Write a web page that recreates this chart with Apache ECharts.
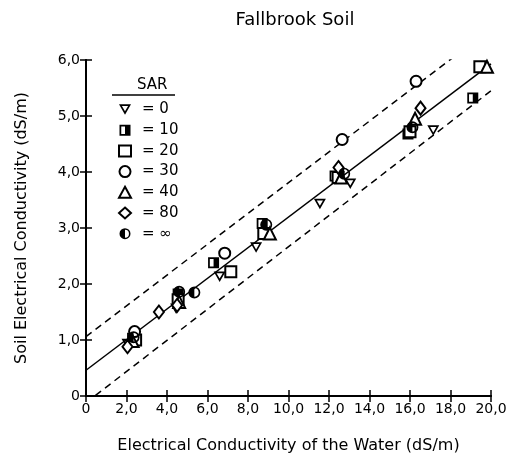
<!DOCTYPE html>
<html>
<head>
<meta charset="utf-8">
<script src="https://cdn.jsdelivr.net/npm/echarts@6/dist/echarts.min.js"></script>
<style>
  html, body { margin: 0; padding: 0; background: #fff; }
  #main { width: 517px; height: 459px; }
</style>
</head>
<body>
<div id="main"></div>
<script>
// values (EC water, EC soil) per SAR group
var sarNames = ['= 0', '= 10', '= 20', '= 30', '= 40', '= 80', '= \u221e'];
var sar0 = [[2.05, 0.93], [4.45, 1.56], [6.6, 2.13], [8.4, 2.65], [11.55, 3.43], [13.05, 3.79], [17.15, 4.74]];
var sar10 = [[2.3, 1.03], [4.55, 1.82], [6.3, 2.38], [8.7, 3.08], [12.3, 3.93], [15.9, 4.68], [19.1, 5.32]];
var sar20 = [[2.45, 1.0], [4.55, 1.72], [7.15, 2.22], [8.78, 2.9], [12.45, 3.9], [16.0, 4.72], [19.45, 5.88]];
var sar30 = [[2.4, 1.15], [6.85, 2.55], [12.65, 4.58], [16.3, 5.62]];
var sar40 = [[2.3, 0.98], [4.6, 1.68], [9.08, 2.9], [12.6, 3.9], [16.25, 4.95], [19.8, 5.88]];
var sar80 = [[2.05, 0.88], [3.6, 1.5], [4.5, 1.62], [12.47, 4.08], [16.52, 5.14]];
var sarInf = [[2.35, 1.05], [4.6, 1.86], [5.35, 1.85], [8.9, 3.06], [12.75, 3.97], [16.12, 4.8], [20.1, 5.78]];

// regression line and the two dashed bounds
var lineX = [0, 20];
var fitY = [0.46, 5.93];
var upperY = [1.06, 6.56];
var lowerY = [-0.12, 5.45];

var xTicks = ['0', '2,0', '4,0', '6,0', '8,0', '10,0', '12,0', '14,0', '16,0', '18,0', '20,0'];
var yTicks = ['0', '1,0', '2,0', '3,0', '4,0', '5,0', '6,0'];

function pairs(xs, ys) {
    return xs.map(function (x, i) { return [x, ys[i]]; });
}

// outlined shapes as filled rings (inner part wound the other way)
var downTriangle = 'path://M0,0 L12,0 L6,10.4 Z M2.9,1.7 L6,7.0 L9.1,1.7 Z';
var halfSquare = 'path://M0,0 L10,0 L10,10 L0,10 Z M1.6,1.6 L1.6,8.4 L5,8.4 L5,1.6 Z';
var halfCircle = 'path://M10,0 A10,10 0 1,1 10,20 A10,10 0 1,1 10,0 Z M10,2.8 L10,17.2 A7.2,7.2 0 0,0 10,2.8 Z';

var fontName = 'DejaVu Sans';
var chart = echarts.init(document.getElementById('main'));

function pointSeries(name, data, symbol, size, filled) {
    return {
        name: name,
        type: 'scatter',
        data: data,
        symbol: symbol,
        symbolSize: size,
        itemStyle: filled
            ? { color: '#000', borderWidth: 0, opacity: 1 }
            : { color: '#000', borderColor: '#000', borderWidth: 1.5, opacity: 1 },
        z: 5
    };
}

function lineSeries(ys, dashed) {
    return {
        type: 'line',
        data: pairs(lineX, ys),
        symbol: 'none',
        clip: true,
        silent: true,
        lineStyle: { color: '#000', width: 1.5, type: dashed ? [7, 5] : 'solid' },
        z: 3
    };
}

var option = {
    backgroundColor: '#fff',
    animation: false,
    textStyle: { fontFamily: fontName, color: '#000' },
    title: {
        text: 'Fallbrook Soil',
        left: 290,
        top: 6,
        textAlign: 'center',
        textStyle: { fontFamily: fontName, fontSize: 18, fontWeight: 'normal', color: '#000' }
    },
    legend: {
        orient: 'vertical',
        left: 113,
        top: 97,
        itemWidth: 12,
        itemHeight: 11,
        itemGap: 5.7,
        data: sarNames,
        textStyle: { fontFamily: fontName, fontSize: 15, color: '#000', padding: [0, 0, 0, 6] }
    },
    graphic: [
        { type: 'text', left: 137, top: 78, style: { text: 'SAR', font: '15px "DejaVu Sans"', fill: '#000' } },
        { type: 'line', shape: { x1: 112, y1: 95, x2: 175, y2: 95 }, style: { stroke: '#000', lineWidth: 1.5 } }
    ],
    grid: { left: 86, right: 26, top: 60, bottom: 61 },
    xAxis: [{
        type: 'value', min: 0, max: 20, interval: 2,
        name: 'Electrical Conductivity of the Water (dS/m)',
        nameLocation: 'middle', nameGap: 42,
        nameTextStyle: { fontFamily: fontName, fontSize: 16, color: '#000' },
        axisLine: { lineStyle: { color: '#000', width: 2 } },
        axisTick: { inside: true, length: 6, lineStyle: { color: '#000', width: 1.5 } },
        axisLabel: { fontSize: 14, color: '#000', margin: 6, formatter: function (v) { return xTicks[Math.round(v / 2)]; } },
        splitLine: { show: false }
    }, {
        type: 'value', min: 0, max: 20, interval: 2, position: 'top',
        axisLine: { lineStyle: { color: '#000', width: 2 } },
        axisTick: { inside: true, length: 6, lineStyle: { color: '#000', width: 1.5 } },
        axisLabel: { show: false },
        splitLine: { show: false }
    }],
    yAxis: [{
        type: 'value', min: 0, max: 6, interval: 1,
        name: 'Soil Electrical Conductivity (dS/m)',
        nameLocation: 'middle', nameGap: 56,
        nameTextStyle: { fontFamily: fontName, fontSize: 16, color: '#000' },
        axisLine: { lineStyle: { color: '#000', width: 2 } },
        axisTick: { inside: true, length: 6, lineStyle: { color: '#000', width: 1.5 } },
        axisLabel: { fontSize: 14, color: '#000', margin: 6, formatter: function (v) { return yTicks[Math.round(v)]; } },
        splitLine: { show: false }
    }, {
        type: 'value', min: 0, max: 6, interval: 1, position: 'right',
        axisLine: { lineStyle: { color: '#000', width: 2 } },
        axisTick: { inside: true, length: 6, lineStyle: { color: '#000', width: 1.5 } },
        axisLabel: { show: false },
        splitLine: { show: false }
    }],
    series: [
        lineSeries(fitY, false),
        lineSeries(upperY, true),
        lineSeries(lowerY, true),
        pointSeries(sarNames[0], sar0, downTriangle, [12, 10.5], true),
        pointSeries(sarNames[1], sar10, halfSquare, 11, true),
        pointSeries(sarNames[2], sar20, 'emptyRect', 11, false),
        pointSeries(sarNames[3], sar30, 'emptyCircle', 11, false),
        pointSeries(sarNames[4], sar40, 'emptyTriangle', 12, false),
        pointSeries(sarNames[5], sar80, 'emptyDiamond', [10, 13], false),
        pointSeries(sarNames[6], sarInf, halfCircle, 12, true)
    ]
};

chart.setOption(option);
</script>
</body>
</html>
